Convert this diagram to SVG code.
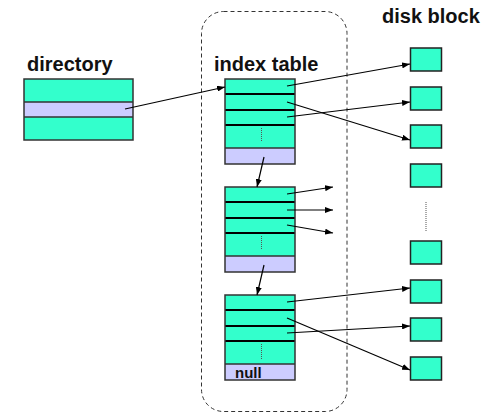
<svg xmlns="http://www.w3.org/2000/svg" width="490" height="414" viewBox="0 0 490 414">
<defs>
<style>
.lbl{font-family:"Liberation Sans",Arial,sans-serif;font-weight:bold;font-size:20px;fill:#111}
.g{fill:#33FFCC}
.v{fill:#CCCCFF}
.frame{fill:none;stroke:#333;stroke-width:1.5}
.div{stroke:#000;stroke-width:2}
.thin{stroke:#333;stroke-width:1.5}
.dots{stroke:#555;stroke-width:1;stroke-dasharray:1,1}
.disk{fill:#33FFCC;stroke:#222;stroke-width:1.5}
.arr{stroke:#000;stroke-width:1.2;fill:none;marker-end:url(#ah)}
</style>
<marker id="ah" viewBox="0 0 8 6" refX="8" refY="3" markerWidth="8" markerHeight="6" markerUnits="userSpaceOnUse" orient="auto">
<path d="M0,0 L8,3 L0,6 z" fill="#000"/>
</marker>
</defs>
<rect width="490" height="414" fill="#fff"/>
<rect x="201.5" y="11.5" width="145.5" height="400" rx="22" ry="22" fill="none" stroke="#333" stroke-width="1" stroke-dasharray="4,3"/>
<text class="lbl" x="27" y="71">directory</text>
<text class="lbl" x="214" y="71">index table</text>
<text class="lbl" x="382" y="23">disk block</text>
<g id="directory">
<rect class="g" x="24" y="79" width="109" height="61"/>
<rect class="v" x="24" y="102" width="109" height="15"/>
<line class="thin" x1="24" y1="102" x2="133" y2="102"/>
<line class="thin" x1="24" y1="117" x2="133" y2="117"/>
<rect class="frame" x="24" y="79" width="109" height="61"/>
</g>
<g id="index1">
<rect class="g" x="225" y="79" width="70" height="69"/>
<rect class="v" x="225" y="148" width="70" height="16"/>
<line class="div" x1="225" y1="94" x2="295" y2="94"/>
<line class="div" x1="225" y1="110" x2="295" y2="110"/>
<line class="div" x1="225" y1="125" x2="295" y2="125"/>
<line class="thin" x1="225" y1="148" x2="295" y2="148"/>
<line class="dots" x1="261.5" y1="128" x2="261.5" y2="142"/>
<rect class="frame" x="225" y="79" width="70" height="85"/>
</g>
<g id="index2">
<rect class="g" x="225" y="187" width="70" height="69"/>
<rect class="v" x="225" y="256" width="70" height="16"/>
<line class="div" x1="225" y1="202" x2="295" y2="202"/>
<line class="div" x1="225" y1="218" x2="295" y2="218"/>
<line class="div" x1="225" y1="233" x2="295" y2="233"/>
<line class="thin" x1="225" y1="256" x2="295" y2="256"/>
<line class="dots" x1="261.5" y1="236" x2="261.5" y2="250"/>
<rect class="frame" x="225" y="187" width="70" height="85"/>
</g>
<g id="index3">
<rect class="g" x="225" y="295" width="70" height="69"/>
<rect class="v" x="225" y="364" width="70" height="16"/>
<line class="div" x1="225" y1="310" x2="295" y2="310"/>
<line class="div" x1="225" y1="326" x2="295" y2="326"/>
<line class="div" x1="225" y1="341" x2="295" y2="341"/>
<line class="thin" x1="225" y1="364" x2="295" y2="364"/>
<line class="dots" x1="261.5" y1="344" x2="261.5" y2="359"/>
<rect class="frame" x="225" y="295" width="70" height="85"/>
<text class="lbl" x="235" y="378" style="font-size:15px">null</text>
</g>
<g id="disk1"><rect class="disk" x="410.5" y="48" width="31" height="23"/></g>
<g id="disk2"><rect class="disk" x="410.5" y="87" width="31" height="23"/></g>
<g id="disk3"><rect class="disk" x="410.5" y="125" width="31" height="23"/></g>
<g id="disk4"><rect class="disk" x="410.5" y="164" width="31" height="23"/></g>
<line class="dots" x1="426" y1="202" x2="426" y2="232"/>
<g id="disk5"><rect class="disk" x="410.5" y="241" width="31" height="23"/></g>
<g id="disk6"><rect class="disk" x="410.5" y="280" width="31" height="23"/></g>
<g id="disk7"><rect class="disk" x="410.5" y="318" width="31" height="23"/></g>
<g id="disk8"><rect class="disk" x="410.5" y="357" width="31" height="23"/></g>
<g id="connectors">
<line class="arr" x1="125" y1="109" x2="225" y2="87"/>
<line class="arr" x1="287" y1="86" x2="410" y2="64"/>
<line class="arr" x1="287" y1="102" x2="410" y2="140"/>
<line class="arr" x1="287" y1="117" x2="410" y2="102"/>
<line class="arr" x1="264" y1="157" x2="257" y2="187"/>
<line class="arr" x1="287" y1="194" x2="333" y2="187"/>
<line class="arr" x1="287" y1="210" x2="333" y2="210"/>
<line class="arr" x1="287" y1="225" x2="333" y2="233"/>
<line class="arr" x1="264" y1="265" x2="257" y2="295"/>
<line class="arr" x1="287" y1="302" x2="410" y2="288"/>
<line class="arr" x1="287" y1="318" x2="410" y2="370"/>
<line class="arr" x1="287" y1="333" x2="410" y2="326"/>
</g>
</svg>
